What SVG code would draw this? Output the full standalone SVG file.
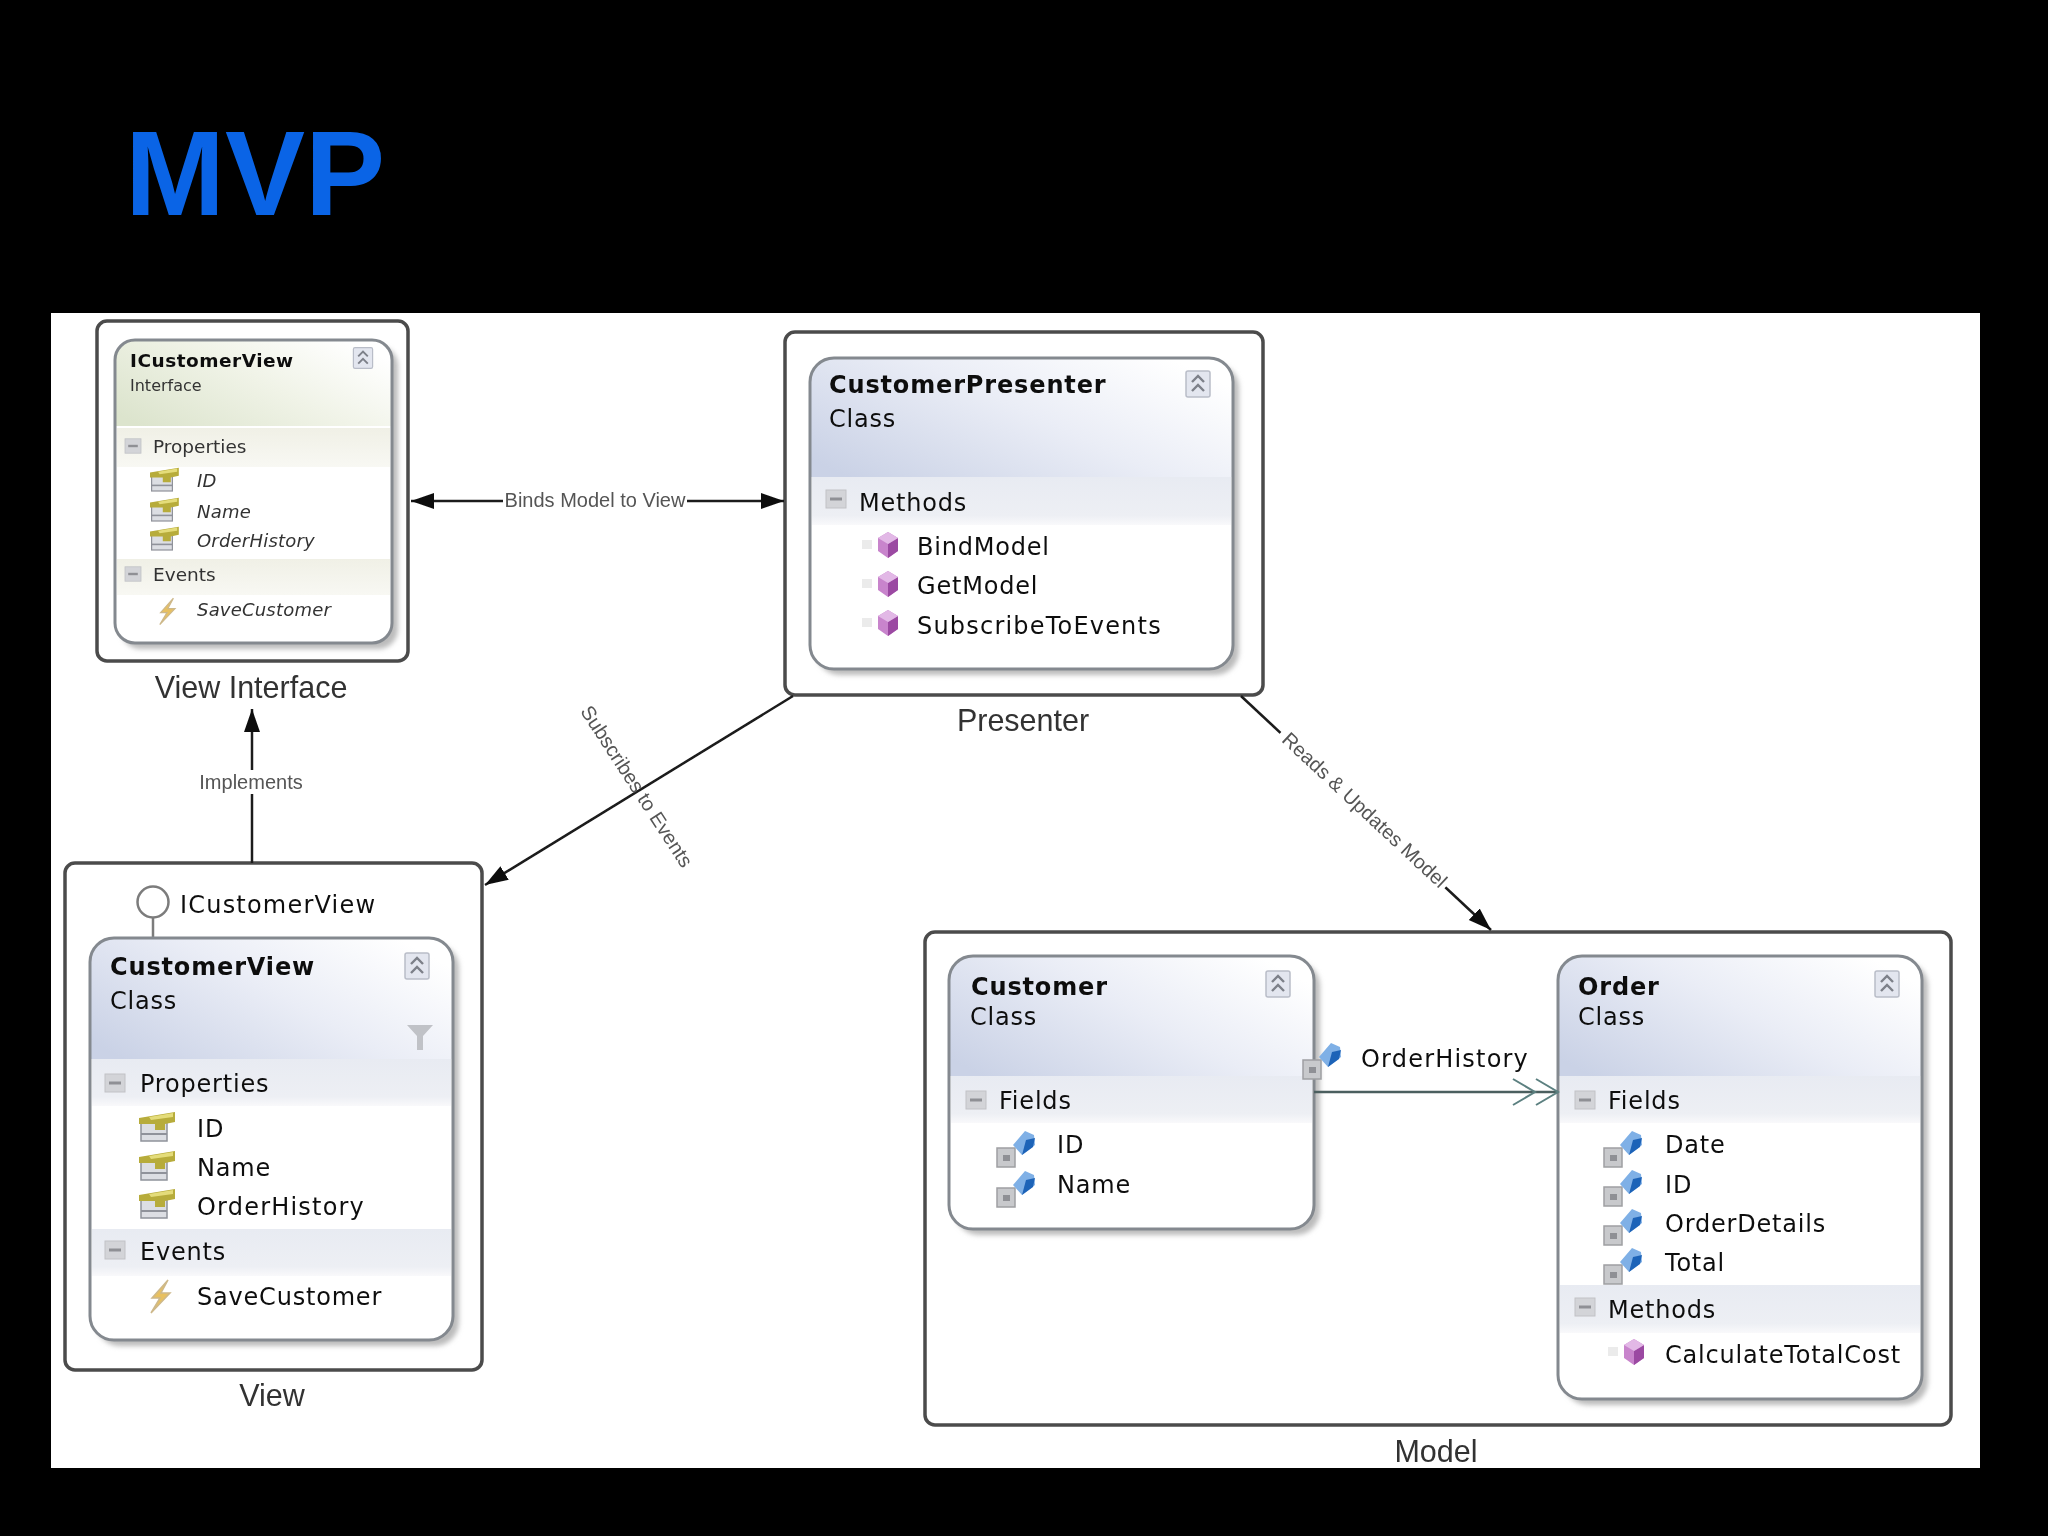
<svg xmlns="http://www.w3.org/2000/svg" width="2048" height="1536" viewBox="0 0 2048 1536">
<style>
text{font-family:"DejaVu Sans","Liberation Sans",sans-serif;fill:#111}
.t{font-size:24px;font-weight:700;letter-spacing:.85px}
.s{font-size:24px;letter-spacing:.8px}
.w{letter-spacing:1.2px}
.it{font-size:18px;font-style:italic;fill:#333;letter-spacing:.2px}
.ti{font-size:18.5px;font-weight:700;letter-spacing:.5px}
.si{font-size:16px;fill:#333}
.h{font-size:18.5px;fill:#333}
.g{font-family:"Liberation Sans",Arial,sans-serif;fill:#333;text-anchor:middle}
.cap{font-size:30.5px}
.lab{font-size:20px;fill:#555}
.frame{fill:#fff;stroke:#4c4c4c;stroke-width:3.5}
.card{stroke:#84898f;stroke-width:3;fill:none}
.base{fill:#fff}
.sh{fill:#bcbcbc;filter:url(#soft)}
.band{fill:url(#bandG)}
.c{fill:none;stroke:#1a1a1a;stroke-width:2.5}
</style>
<defs>
<filter id="soft" x="-10%" y="-10%" width="120%" height="120%"><feGaussianBlur stdDeviation="2.5"/></filter>
<filter id="jpeg" filterUnits="userSpaceOnUse" x="0" y="0" width="2048" height="1536"><feGaussianBlur stdDeviation="0.7"/></filter>
<linearGradient id="blueG" x1="0" y1=".85" x2="1" y2=".25"><stop offset="0" stop-color="#cad2e6"/><stop offset=".55" stop-color="#eaedf6"/><stop offset="1" stop-color="#fff"/></linearGradient>
<linearGradient id="greenG" x1="0" y1=".85" x2="1" y2=".25"><stop offset="0" stop-color="#dce4cd"/><stop offset=".55" stop-color="#f0f3e7"/><stop offset="1" stop-color="#fff"/></linearGradient>
<linearGradient id="bandG" x1="0" y1="0" x2="0" y2="1"><stop offset="0" stop-color="#e8ebf2"/><stop offset=".8" stop-color="#edeff4"/><stop offset="1" stop-color="#f9f9fb"/></linearGradient>
<linearGradient id="bandH" x1="0" y1="0" x2="0" y2="1"><stop offset="0" stop-color="#f0f0e6"/><stop offset="1" stop-color="#f8f8f3"/></linearGradient>
<marker id="solid" markerUnits="userSpaceOnUse" markerWidth="26" markerHeight="18" refX="23" refY="8" orient="auto-start-reverse"><path d="M0 0L23 8L0 16z" fill="#111"/></marker>
<marker id="dbl" markerUnits="userSpaceOnUse" markerWidth="50" markerHeight="34" refX="47" refY="16" orient="auto"><path d="M25 3L47 16L25 29M2 3L24 16L2 29" fill="none" stroke="#5c8080" stroke-width="2"/></marker>
<g id="btn"><rect x="-12" y="-13" width="24" height="26" rx="2" fill="#e3e6ef" stroke="#b9bdc8" stroke-width="1.5"/><path d="M-6 -2L0 -8L6 -2M-6 7L0 1L6 7" fill="none" stroke="#7d8089" stroke-width="2.4"/></g>
<g id="minus"><rect x="-10" y="-9" width="20" height="18" fill="#d3d4d8" stroke="#c1c2c6"/><rect x="-6" y="-1.5" width="12" height="3" fill="#8f9095"/></g>
<g id="method"><path d="M-26 -5h10v9h-10z" fill="#ebebeb"/><path d="M0 -13L10 -7V6L0 13L-10 6V-7z" fill="#c884cc"/><path d="M0 -1L10 -7V6L0 13z" fill="#9b4aa2"/><path d="M0 -13L10 -7L0 -1L-10 -7z" fill="#e2b8e6"/></g>
<g id="prop"><rect x="-18" y="-4" width="26" height="19" fill="#dcdee3" stroke="#8f929a" stroke-width="1.5"/><path d="M-18 8h26" stroke="#8f929a" stroke-width="2"/><path d="M-20 -8L16 -14V-4L6 -2V4H-4V-2L-20 -2z" fill="#b7ac3a"/><path d="M-10 -9L14 -13V-9L-8 -6z" fill="#e4dc7a"/></g>
<g id="event"><path d="M8 -16L-8 2H0L-9 17L10 -3H1z" fill="#e8c060" stroke="#cdb88a" stroke-width="1.5"/></g>
<g id="field"><rect x="-22" y="1" width="18" height="19" fill="#c8c9cc" stroke="#9e9fa2" stroke-width="1.5"/><rect x="-16" y="8" width="7" height="6" fill="#8f9095"/><path d="M-4 2L-10 5M-6 -2L6 -16L15 -12L16 -2L3 8z" fill="#7fb0e6"/><path d="M7 -7L16 -9L14 0L3 8z" fill="#1f63b8"/></g>
<g id="funnel"><path d="M-13 -11H13L3 0V14H-3V0z" fill="#c0c2c7"/></g>
</defs>
<rect width="2048" height="1536" fill="#000"/>
<text id="title" x="125" y="215" style="font-family:'Liberation Sans',Arial,sans-serif;font-size:120px;font-weight:700;fill:#0a64e6">MVP</text>
<rect id="panel" x="51" y="313" width="1929" height="1155" fill="#fff"/>
<g filter="url(#jpeg)">

<g id="view-interface">
<rect class="frame" x="97" y="321" width="311" height="340" rx="10"/>
<rect class="sh" x="121" y="346" width="277" height="303" rx="20"/>
<rect class="base" x="115" y="340" width="277" height="303" rx="20"/>
<path d="M115 426V360A20 20 0 0 1 135 340H372A20 20 0 0 1 392 360V426z" fill="url(#greenG)"/>
<rect x="117" y="428" width="273" height="39" fill="url(#bandH)"/>
<rect x="117" y="559" width="273" height="36" fill="url(#bandH)"/>
<rect class="card" x="115" y="340" width="277" height="303" rx="20"/>
<use href="#btn" transform="translate(363 358) scale(.8)"/>
<text class="ti" x="130" y="367">ICustomerView</text>
<text class="si" x="130" y="391">Interface</text>
<use href="#minus" transform="translate(133 446) scale(.8)"/>
<text class="h" x="153" y="453">Properties</text>
<use href="#prop" transform="translate(166 479) scale(.8)"/>
<text class="it" x="197" y="487">ID</text>
<use href="#prop" transform="translate(166 509) scale(.8)"/>
<text class="it" x="197" y="518">Name</text>
<use href="#prop" transform="translate(166 538) scale(.8)"/>
<text class="it" x="197" y="547">OrderHistory</text>
<use href="#minus" transform="translate(133 574) scale(.8)"/>
<text class="h" x="153" y="581">Events</text>
<use href="#event" transform="translate(167 611) scale(.8)"/>
<text class="it" x="197" y="616">SaveCustomer</text>
<text class="g cap" x="251" y="698">View Interface</text>
</g>

<g id="presenter">
<rect class="frame" x="785" y="332" width="478" height="363" rx="10"/>
<rect class="sh" x="816" y="364" width="423" height="311" rx="24"/>
<rect class="base" x="810" y="358" width="423" height="311" rx="24"/>
<path d="M810 477V382A24 24 0 0 1 834 358H1209A24 24 0 0 1 1233 382V477z" fill="url(#blueG)"/>
<rect x="812" y="477" width="419" height="48" class="band"/>
<rect class="card" x="810" y="358" width="423" height="311" rx="24"/>
<use href="#btn" transform="translate(1198 384)"/>
<text class="t" x="829" y="393">CustomerPresenter</text>
<text class="s" x="829" y="427">Class</text>
<use href="#minus" transform="translate(836 499)"/>
<text class="s" x="859" y="511">Methods</text>
<use href="#method" transform="translate(888 545)"/>
<text class="s" x="917" y="555">BindModel</text>
<use href="#method" transform="translate(888 584)"/>
<text class="s" x="917" y="594">GetModel</text>
<use href="#method" transform="translate(888 623)"/>
<text class="s w" x="917" y="634">SubscribeToEvents</text>
<text class="g cap" x="1023" y="731">Presenter</text>
</g>

<g id="view">
<rect class="frame" x="65" y="863" width="417" height="507" rx="10"/>
<circle cx="153" cy="902" r="15.5" fill="#fff" stroke="#7c7c7c" stroke-width="2.5"/>
<path d="M153 917V938" stroke="#7c7c7c" stroke-width="2.5"/>
<text class="s w" x="180" y="913">ICustomerView</text>
<rect class="sh" x="96" y="944" width="363" height="402" rx="24"/>
<rect class="base" x="90" y="938" width="363" height="402" rx="24"/>
<path d="M90 1059V962A24 24 0 0 1 114 938H429A24 24 0 0 1 453 962V1059z" fill="url(#blueG)"/>
<rect x="92" y="1059" width="359" height="47" class="band"/>
<rect x="92" y="1229" width="359" height="47" class="band"/>
<rect class="card" x="90" y="938" width="363" height="402" rx="24"/>
<use href="#btn" transform="translate(417 966)"/>
<use href="#funnel" transform="translate(420 1036)"/>
<text class="t" x="110" y="975">CustomerView</text>
<text class="s" x="110" y="1009">Class</text>
<use href="#minus" transform="translate(115 1083)"/>
<text class="s" x="140" y="1092">Properties</text>
<use href="#prop" transform="translate(159 1126)"/>
<text class="s" x="197" y="1137">ID</text>
<use href="#prop" transform="translate(159 1165)"/>
<text class="s" x="197" y="1176">Name</text>
<use href="#prop" transform="translate(159 1203)"/>
<text class="s w" x="197" y="1215">OrderHistory</text>
<use href="#minus" transform="translate(115 1250)"/>
<text class="s" x="140" y="1260">Events</text>
<use href="#event" transform="translate(160 1296)"/>
<text class="s" x="197" y="1305">SaveCustomer</text>
<text class="g cap" x="272" y="1406">View</text>
</g>

<g id="model">
<rect class="frame" x="925" y="932" width="1026" height="493" rx="10"/>
<text class="g cap" x="1436" y="1462">Model</text>
</g>

<g id="customer">
<rect class="sh" x="955" y="962" width="365" height="273" rx="24"/>
<rect class="base" x="949" y="956" width="365" height="273" rx="24"/>
<path d="M949 1076V980A24 24 0 0 1 973 956H1290A24 24 0 0 1 1314 980V1076z" fill="url(#blueG)"/>
<rect x="951" y="1076" width="361" height="47" class="band"/>
<rect class="card" x="949" y="956" width="365" height="273" rx="24"/>
<use href="#btn" transform="translate(1278 984)"/>
<text class="t" x="971" y="995">Customer</text>
<text class="s" x="970" y="1025">Class</text>
<use href="#minus" transform="translate(976 1100)"/>
<text class="s" x="999" y="1109">Fields</text>
<use href="#field" transform="translate(1019 1147)"/>
<text class="s" x="1057" y="1153">ID</text>
<use href="#field" transform="translate(1019 1187)"/>
<text class="s" x="1057" y="1193">Name</text>
</g>

<g id="order">
<rect class="sh" x="1564" y="962" width="364" height="443" rx="24"/>
<rect class="base" x="1558" y="956" width="364" height="443" rx="24"/>
<path d="M1558 1076V980A24 24 0 0 1 1582 956H1898A24 24 0 0 1 1922 980V1076z" fill="url(#blueG)"/>
<rect x="1560" y="1076" width="360" height="47" class="band"/>
<rect x="1560" y="1285" width="360" height="48" class="band"/>
<rect class="card" x="1558" y="956" width="364" height="443" rx="24"/>
<use href="#btn" transform="translate(1887 984)"/>
<text class="t" x="1578" y="995">Order</text>
<text class="s" x="1578" y="1025">Class</text>
<use href="#minus" transform="translate(1585 1100)"/>
<text class="s" x="1608" y="1109">Fields</text>
<use href="#field" transform="translate(1626 1147)"/>
<text class="s" x="1665" y="1153">Date</text>
<use href="#field" transform="translate(1626 1186)"/>
<text class="s" x="1665" y="1193">ID</text>
<use href="#field" transform="translate(1626 1225)"/>
<text class="s" x="1665" y="1232">OrderDetails</text>
<use href="#field" transform="translate(1626 1264)"/>
<text class="s" x="1665" y="1271">Total</text>
<use href="#minus" transform="translate(1585 1307)"/>
<text class="s" x="1608" y="1318">Methods</text>
<use href="#method" transform="translate(1634 1352)"/>
<text class="s" x="1665" y="1363">CalculateTotalCost</text>
</g>

<g id="order-history-label">
<use href="#field" transform="translate(1325 1059)"/>
<text class="s w" x="1361" y="1067">OrderHistory</text>
</g>

<g id="connectors">
<path class="c" d="M411 501H784" marker-start="url(#solid)" marker-end="url(#solid)"/>
<rect x="503" y="489" width="184" height="24" fill="#fff"/>
<text class="g lab" x="595" y="507">Binds Model to View</text>
<path class="c" d="M252 863V709" marker-end="url(#solid)"/>
<rect x="196" y="770" width="110" height="24" fill="#fff"/>
<text class="g lab" x="251" y="789">Implements</text>
<path class="c" d="M793 696L485 885" marker-end="url(#solid)"/>
<text class="g lab" transform="translate(631 790) rotate(57)">Subscribes to Events</text>
<path class="c" d="M1241 696L1491 930" marker-end="url(#solid)"/>
<rect x="-113" y="-11" width="226" height="22" fill="#fff" transform="translate(1363 810) rotate(43)"/>
<text class="g lab" transform="translate(1360 815) rotate(43)">Reads &amp; Updates Model</text>
<path d="M1314 1092H1558" fill="none" stroke="#4b5e5e" stroke-width="2.5" marker-end="url(#dbl)"/>
</g>
</g>
</svg>
